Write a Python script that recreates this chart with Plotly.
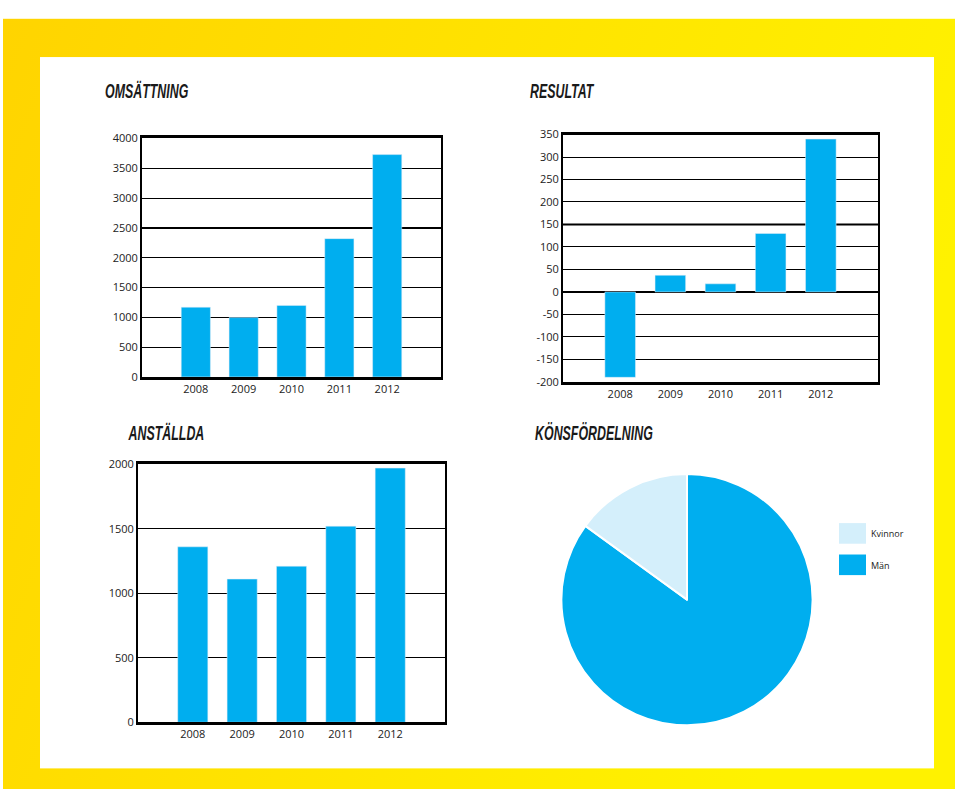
import base64
import plotly.graph_objects as go

W, H = 955, 796

years = ["2008", "2009", "2010", "2011", "2012"]
omsattning = [1170, 995, 1200, 2320, 3730]
resultat = [-190, 37, 18, 130, 340]
anstallda = [1360, 1110, 1210, 1520, 1970]
kon_labels = ["Kvinnor", "Män"]
kon_values = [15, 85]
resultat_ticks = [-200, -150, -100, -50, 0, 50, 100, 150, 200, 250, 300, 350]

BLUE = "#00AEEF"
LIGHT = "#D4EFFB"
kon_colors = [LIGHT, BLUE]
TICKFONT = dict(family="Open Sans, Lato, sans-serif", size=11, color="#222222")
TITLEFONT = dict(family="Liberation Sans, Arial, sans-serif",
                 size=20, color="#1a1a1a", style="italic", weight="bold")


def px(x):
    return x / W


def py(y):
    return 1 - y / H


# yellow gradient frame drawn as an svg background
svg = f"""<svg xmlns='http://www.w3.org/2000/svg' width='{W}' height='{H}' viewBox='0 0 {W} {H}' preserveAspectRatio='none'>
<defs><linearGradient id='g' x1='0' y1='0' x2='1' y2='0.3'>
<stop offset='0' stop-color='#FFD400'/><stop offset='1' stop-color='#FFF200'/></linearGradient></defs>
<rect x='3' y='11' width='952' height='789' fill='url(#g)'/>
<rect x='40' y='50' width='894' height='725' fill='#ffffff'/>
</svg>"""
bg_src = "data:image/svg+xml;base64," + base64.b64encode(svg.encode()).decode()

fig = go.Figure()

fig.add_trace(go.Bar(x=years, y=omsattning, marker_color=BLUE, xaxis="x", yaxis="y",
                     showlegend=False))
fig.add_trace(go.Bar(x=years, y=resultat, marker_color=BLUE, xaxis="x2", yaxis="y2",
                     showlegend=False))
fig.add_trace(go.Bar(x=years, y=anstallda, marker_color=BLUE, xaxis="x3", yaxis="y3",
                     showlegend=False))
# drawn clockwise from 12 o'clock with Män first so Kvinnor lands on the upper left
fig.add_trace(go.Pie(labels=kon_labels[::-1], values=kon_values[::-1], sort=False,
                     direction="clockwise", rotation=0,
                     marker=dict(colors=kon_colors[::-1], line=dict(color="white", width=2)),
                     textinfo="none", hoverinfo="label+percent", showlegend=False,
                     domain=dict(x=[px(559), px(815)], y=[py(731), py(475)])))


def xax(dom, rng):
    return dict(domain=dom, type="category", range=rng, showgrid=False,
                showline=True, linecolor="black", linewidth=2.5, mirror=True,
                ticks="", tickfont=TICKFONT, zeroline=False, fixedrange=True)


def yax(dom, rng, dtick, anchor):
    return dict(domain=dom, range=rng, dtick=dtick, anchor=anchor, showgrid=True,
                gridcolor="black", gridwidth=1, showline=True, linecolor="black",
                linewidth=2, mirror=True, ticks="", tickfont=TICKFONT,
                zeroline=False, fixedrange=True)


shapes = []
# emphasized gridlines
shapes.append(dict(type="line", xref="x domain", yref="y", x0=0, x1=1, y0=2500, y1=2500,
                   line=dict(color="black", width=2), layer="below"))
shapes.append(dict(type="line", xref="x2 domain", yref="y2", x0=0, x1=1, y0=150, y1=150,
                   line=dict(color="black", width=2), layer="below"))

# custom pie legend
annotations = []
for i, (lab, col) in enumerate(zip(kon_labels, kon_colors)):
    top = 525 + i * 32
    shapes.append(dict(type="rect", xref="paper", yref="paper",
                       x0=px(839), x1=px(866), y0=py(top + 21), y1=py(top),
                       fillcolor=col, line=dict(width=0)))
    annotations.append(dict(text=lab, xref="paper", yref="paper", x=px(869), y=py(top + 11),
                            xanchor="left", yanchor="middle", showarrow=False,
                            font=dict(family="Open Sans, sans-serif", size=9, color="#222")))

for text, x, y in [("OMSÄTTNING", 103, 85), ("RESULTAT", 528, 85),
                   ("ANSTÄLLDA", 126, 433), ("KÖNSFÖRDELNING", 533, 433)]:
    annotations.append(dict(text=text, xref="paper", yref="paper", x=px(x), y=py(y),
                            xanchor="left", yanchor="middle", showarrow=False, font=TITLEFONT))

fig.update_layout(
    width=W, height=H, autosize=False,
    margin=dict(l=0, r=0, t=0, b=0),
    paper_bgcolor="white", plot_bgcolor="rgba(0,0,0,0)",
    bargap=0.39,
    xaxis=xax([px(142), px(441)], [-1.125, 5.125]) | dict(anchor="y"),
    yaxis=yax([py(376), py(133)], [0, 4000], 500, "x"),
    xaxis2=xax([px(563), px(878)], [-1.14, 5.14]) | dict(anchor="y2"),
    yaxis2=yax([py(381), py(129)], [-200, 350], 50, "x2")
    | dict(tickvals=resultat_ticks, ticktext=[str(v) for v in resultat_ticks],
           zeroline=True, zerolinecolor="black", zerolinewidth=2),
    xaxis3=xax([px(138), px(445)], [-1.11, 5.11]) | dict(anchor="y3"),
    yaxis3=yax([py(728), py(465)], [0, 2000], 500, "x3"),
    shapes=shapes,
    annotations=annotations,
    images=[dict(source=bg_src, xref="paper", yref="paper", x=0, y=1, sizex=1, sizey=1,
                 xanchor="left", yanchor="top", sizing="stretch", layer="below")],
)

# drop the page margin and squeeze the headings into a condensed look
post = """
document.documentElement.style.margin = '0';
document.body.style.margin = '0';
document.body.style.overflow = 'hidden';
var gd = document.getElementById('{plot_id}');
gd.querySelectorAll('g.annotation').forEach(function (g) {
  var i = +g.getAttribute('data-index');
  if (i >= 2) {
    var t = g.querySelector('text');
    t.style.transformBox = 'fill-box';
    t.style.transformOrigin = 'left center';
    t.style.transform = 'scaleX(0.62)';
  }
});
"""

fig.write_html("out.html", config=dict(displayModeBar=False), post_script=post)
